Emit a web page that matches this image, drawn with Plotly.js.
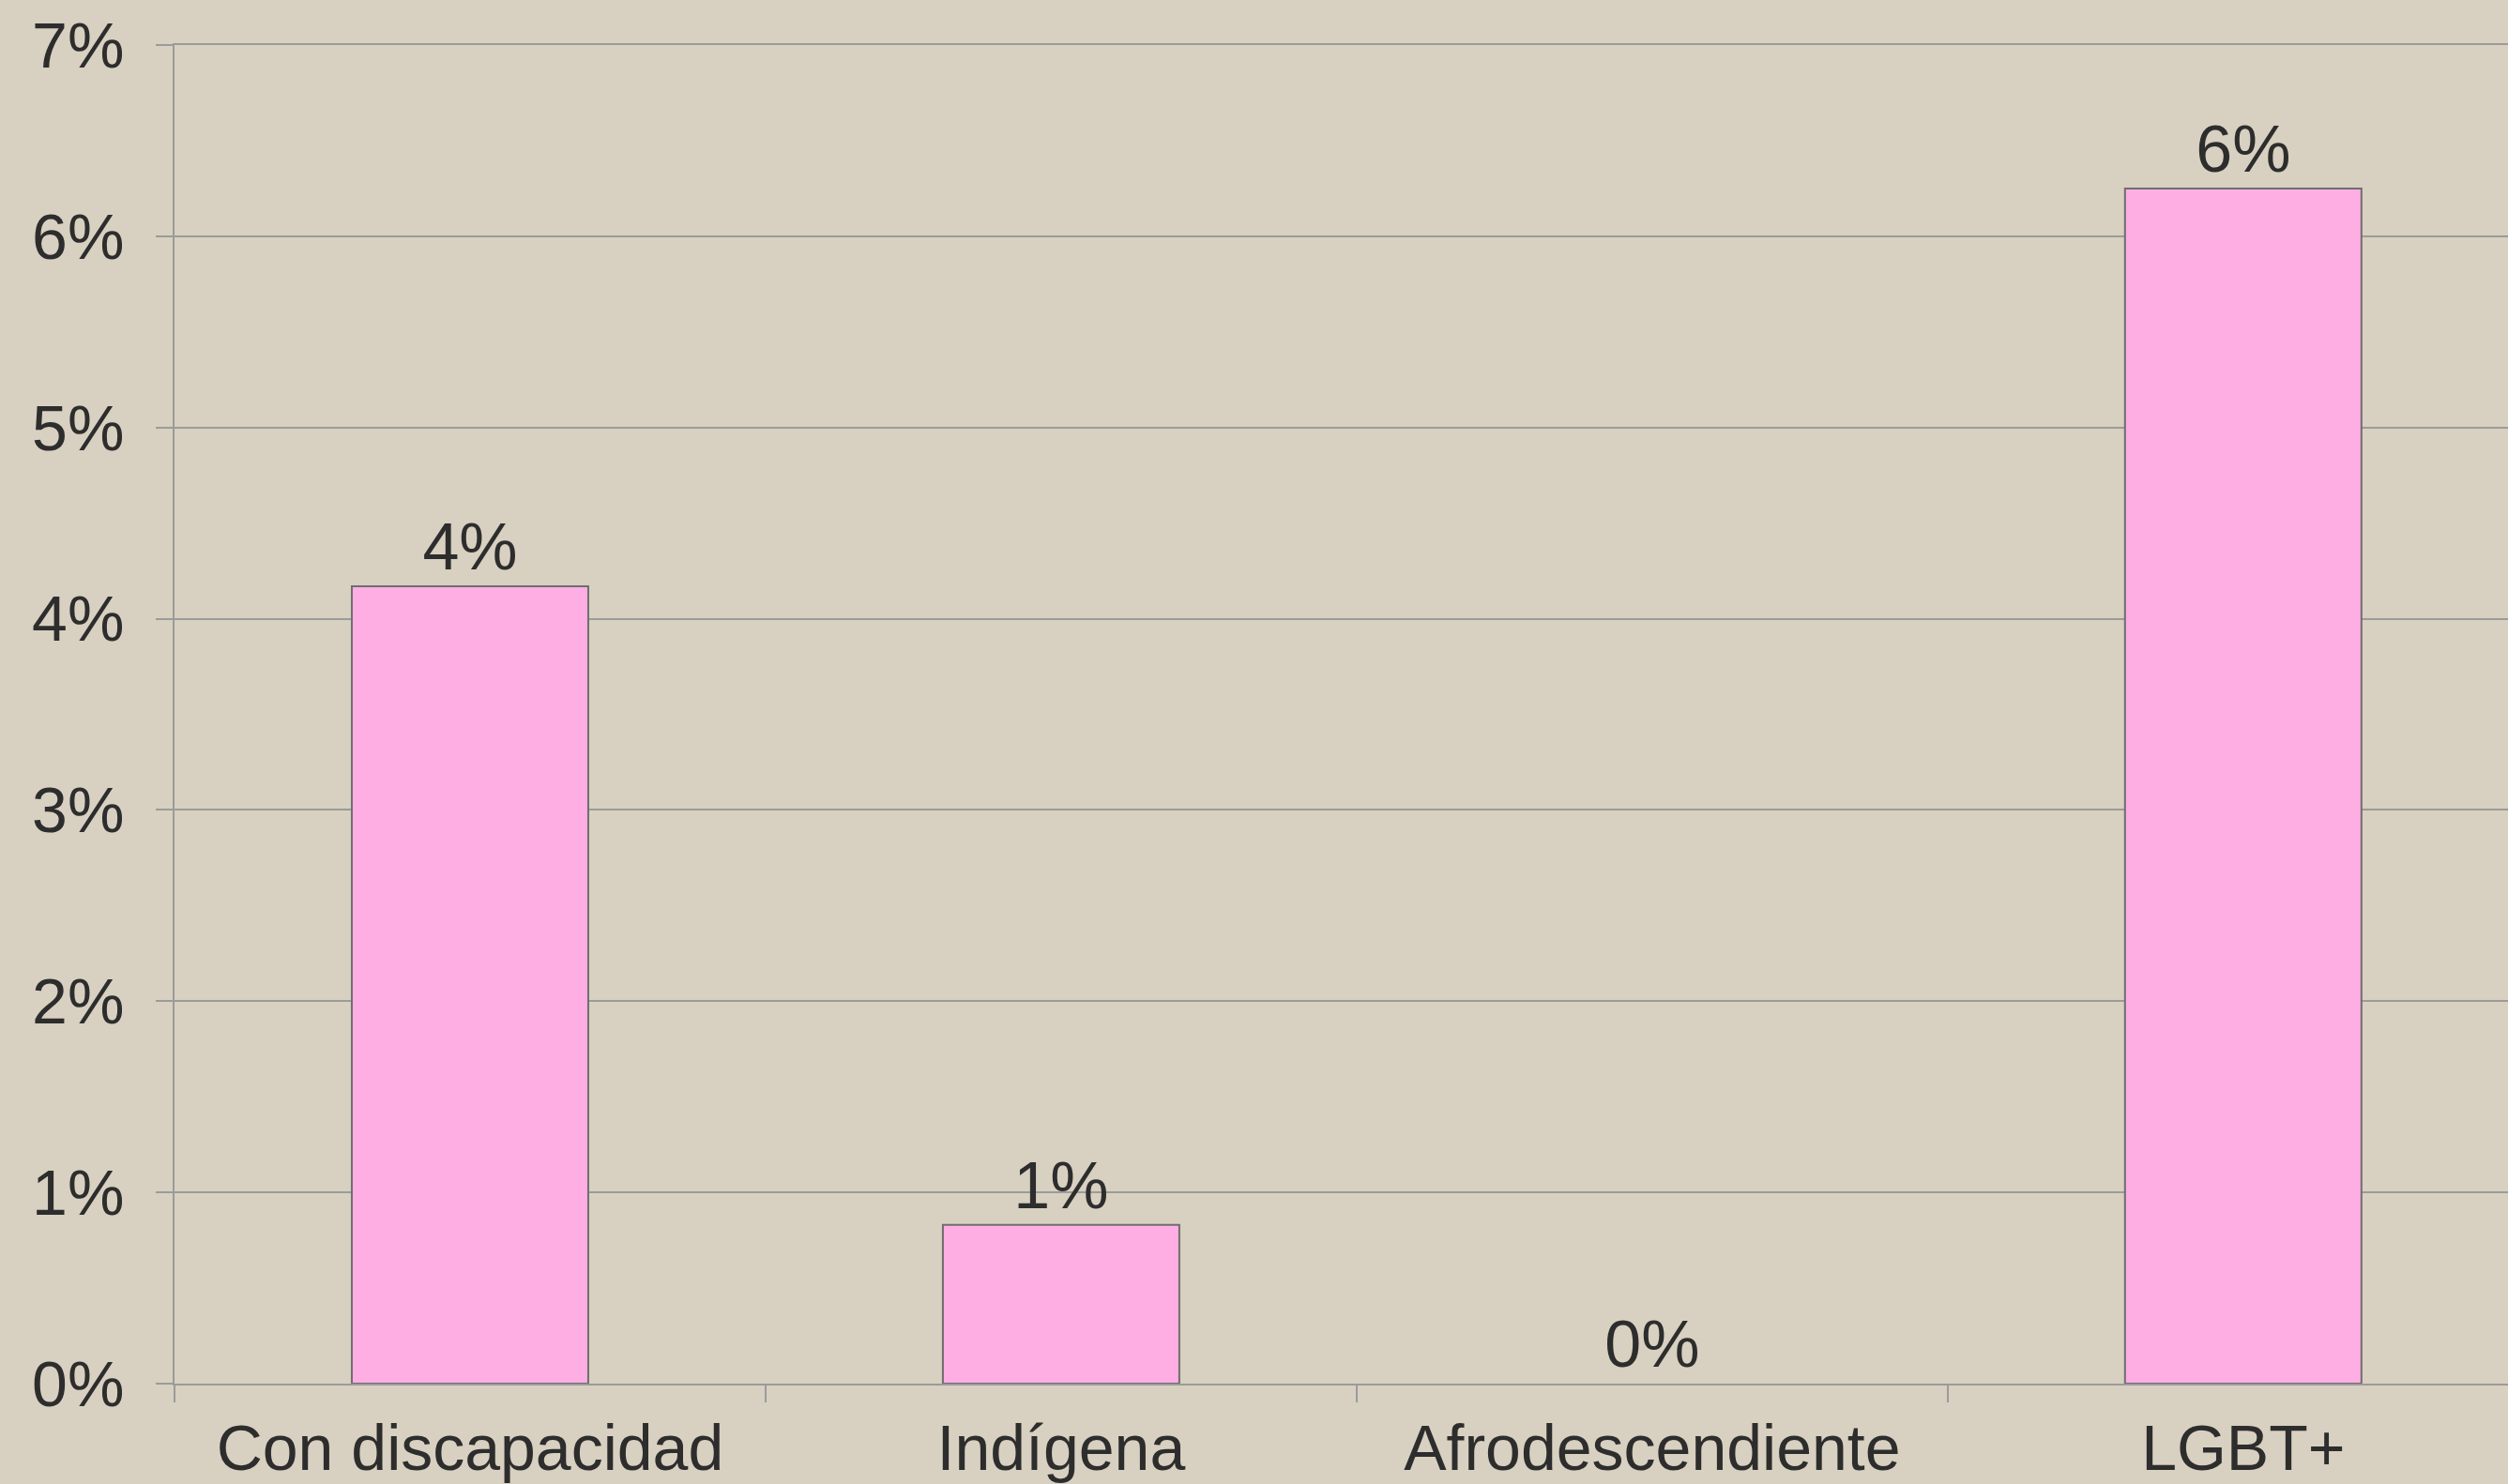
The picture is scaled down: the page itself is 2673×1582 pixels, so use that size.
<!DOCTYPE html>
<html>
<head>
<meta charset="utf-8">
<script src="https://cdn.plot.ly/plotly-3.0.1.min.js"></script>
<style>
html, body { margin: 0; padding: 0; background: #D8D0C0; overflow: hidden; }
#chart { width: 2673px; height: 1582px; }
</style>
</head>
<body>
<div id="chart"></div>
<script>
// Data
const categories = ["Con discapacidad", "Indígena", "Afrodescendiente", "LGBT+"];
const values = [4.17, 0.83, 0, 6.25]; // percent
const yTicks = [0, 1, 2, 3, 4, 5, 6, 7];

const textColor = "#2D2D2D";
const gridColor = "#9B9B9B";

const trace = {
  type: "bar",
  x: categories,
  y: values,
  marker: {
    color: "#FFAEE4",
    line: { color: "#6E6E6E", width: values.map(v => (v > 0 ? 2 : 0)) }
  },
  text: values.map(v => Math.round(v) + "%"),
  textposition: "outside",
  cliponaxis: false,
  textfont: { family: "Liberation Sans, Arial, sans-serif", size: 70, color: textColor },
  hoverinfo: "skip"
};

const layout = {
  width: 2673,
  height: 1582,
  paper_bgcolor: "#D8D0C0",
  plot_bgcolor: "#D8D0C0",
  margin: { l: 186, r: 0, t: 48, b: 107 },
  bargap: 0.6,
  showlegend: false,
  font: { family: "Liberation Sans, Arial, sans-serif", color: textColor },
  xaxis: {
    type: "category",
    range: [-0.5, 3.448],
    tickson: "boundaries",
    ticks: "outside",
    ticklen: 18,
    tickwidth: 2,
    tickcolor: gridColor,
    showgrid: false,
    showline: true,
    mirror: true,
    linecolor: gridColor,
    linewidth: 2,
    zeroline: false,
    tickfont: { size: 68, color: textColor },
    ticklabelstandoff: 8,
    automargin: false
  },
  yaxis: {
    range: [0, 7],
    tickvals: yTicks,
    ticktext: yTicks.map(v => v + "%"),
    ticks: "outside",
    ticklen: 18,
    tickwidth: 2,
    tickcolor: gridColor,
    showgrid: true,
    gridcolor: gridColor,
    gridwidth: 2,
    showline: true,
    linecolor: gridColor,
    linewidth: 2,
    zeroline: false,
    tickfont: { size: 68, color: textColor },
    ticklabelstandoff: 20,
    automargin: false
  }
};

Plotly.newPlot("chart", [trace], layout, { staticPlot: true, displayModeBar: false });
</script>
</body>
</html>
